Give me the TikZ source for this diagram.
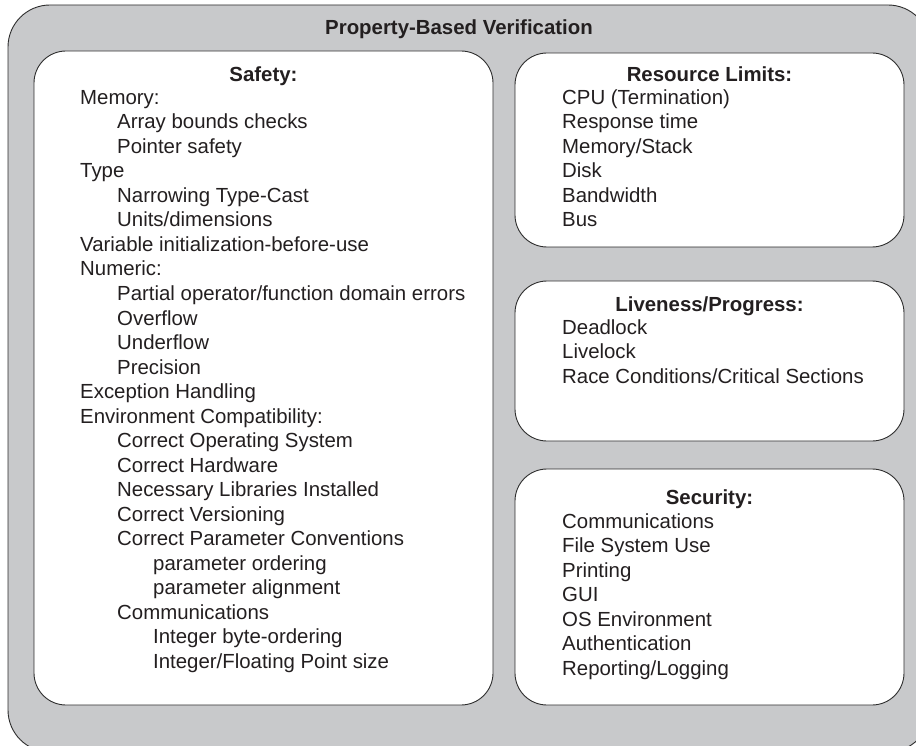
\documentclass[tikz,border=0pt]{standalone}
\usepackage{fontspec}
\setmainfont{Liberation Sans}
\definecolor{bggray}{RGB}{200,201,203}
\definecolor{linec}{RGB}{45,45,45}
\definecolor{txt}{RGB}{35,31,32}
\tikzset{
  outerbox/.style={draw=linec, fill=bggray, rounded corners=42pt, line width=0.9pt, inner sep=0pt},
  panel/.style={draw=linec, fill=white, rounded corners=32pt, line width=0.9pt, inner sep=0pt},
  head/.style={font=\fontsize{20.4}{24}\selectfont\bfseries, anchor=base, inner sep=0pt, text=txt},
  entry/.style={anchor=base west, inner sep=0pt, text=txt},
}
\newcommand\ent[4]{\node[entry] (#1) at (#2,#3) {#4};}
\begin{document}
\begin{tikzpicture}[x=1pt, y=-1pt, font=\fontsize{20.4}{24}\selectfont]
\useasboundingbox (0,0) rectangle (916,746);
% outer container
\node[outerbox, minimum width=922pt, minimum height=747pt] (outer) at (469,378.5) {};
\node[head] (title) at (459,35) {Property-Based Verification};
% panels
\node[panel, minimum width=459pt, minimum height=654pt] (safety) at (263.5,378) {};
\node[panel, minimum width=389pt, minimum height=194pt] (resource) at (709.5,150) {};
\node[panel, minimum width=389pt, minimum height=160pt] (liveness) at (709.5,361) {};
\node[panel, minimum width=389pt, minimum height=236pt] (security) at (709.5,587) {};
% Safety
\node[head] (safetyhead) at (263.5,82) {Safety:};
\ent{s1}{80}{104.5}{Memory:}
\ent{s2}{117}{129}{Array bounds checks}
\ent{s3}{117}{153.5}{Pointer safety}
\ent{s4}{80}{178}{Type}
\ent{s5}{117}{202.5}{Narrowing Type-Cast}
\ent{s6}{117}{227}{Units/dimensions}
\ent{s7}{80}{251.5}{Variable initialization-before-use}
\ent{s8}{80}{276}{Numeric:}
\ent{s9}{117}{300.5}{Partial operator/function domain errors}
\ent{s10}{117}{325}{Overflow}
\ent{s11}{117}{349.5}{Underflow}
\ent{s12}{117}{374}{Precision}
\ent{s13}{80}{398.5}{Exception Handling}
\ent{s14}{80}{423}{Environment Compatibility:}
\ent{s15}{117}{447.5}{Correct Operating System}
\ent{s16}{117}{472}{Correct Hardware}
\ent{s17}{117}{496.5}{Necessary Libraries Installed}
\ent{s18}{117}{521}{Correct Versioning}
\ent{s19}{117}{545.5}{Correct Parameter Conventions}
\ent{s20}{153}{570}{parameter ordering}
\ent{s21}{153}{594.5}{parameter alignment}
\ent{s22}{117}{619}{Communications}
\ent{s23}{153}{643.5}{Integer byte-ordering}
\ent{s24}{153}{668}{Integer/Floating Point size}
% Resource Limits
\node[head] (resourcehead) at (709.5,82) {Resource Limits:};
\ent{r1}{562}{104.5}{CPU (Termination)}
\ent{r2}{562}{129}{Response time}
\ent{r3}{562}{153.5}{Memory/Stack}
\ent{r4}{562}{178}{Disk}
\ent{r5}{562}{202.5}{Bandwidth}
\ent{r6}{562}{227}{Bus}
% Liveness/Progress
\node[head] (livenesshead) at (709.5,312) {Liveness/Progress:};
\ent{l1}{562}{334}{Deadlock}
\ent{l2}{562}{358.5}{Livelock}
\ent{l3}{562}{383}{Race Conditions/Critical Sections}
% Security
\node[head] (securityhead) at (709.5,504) {Security:};
\ent{c1}{562}{528}{Communications}
\ent{c2}{562}{552.5}{File System Use}
\ent{c3}{562}{577}{Printing}
\ent{c4}{562}{601.5}{GUI}
\ent{c5}{562}{626}{OS Environment}
\ent{c6}{562}{650.5}{Authentication}
\ent{c7}{562}{675}{Reporting/Logging}
\end{tikzpicture}
\end{document}
